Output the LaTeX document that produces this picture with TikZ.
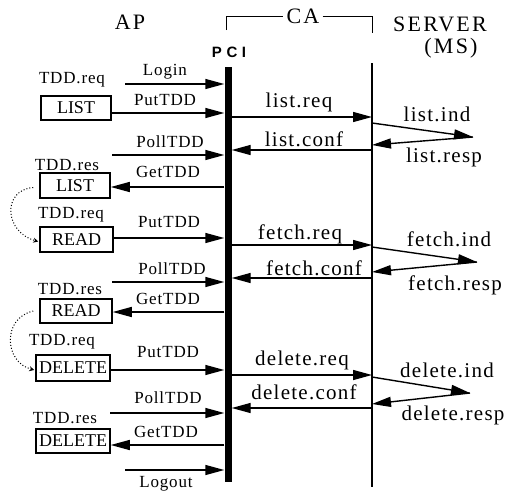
\documentclass[tikz,border=0pt]{standalone}
\usepackage{fontspec}
\setmainfont{Liberation Serif}
\newfontfamily\lblfont[LetterSpace=5]{Liberation Serif}
\newfontfamily\msgfont[LetterSpace=6]{Liberation Serif}
\newfontfamily\ttlfont[LetterSpace=10]{Liberation Serif}
\newfontfamily\pcifont[LetterSpace=30]{Liberation Sans}
\usetikzlibrary{arrows.meta}
\begin{document}
\begin{tikzpicture}[x=1pt,y=-1pt,
  arr/.style={line width=1.4pt,-{Triangle[length=19pt,width=10pt]}},
  box/.style={draw,line width=1.5pt,inner sep=0pt,font=\fontsize{18}{18}\selectfont},
  lbl/.style={inner sep=0pt,font=\lblfont\fontsize{17}{17}\selectfont},
  msg/.style={inner sep=0pt,font=\msgfont\fontsize{21}{21}\selectfont},
  ttl/.style={inner sep=0pt,font=\ttlfont\fontsize{22}{22}\selectfont},
  loop/.style={dotted,line width=1pt,-{Stealth[length=5pt,width=5pt]}}]
\useasboundingbox (0,0) rectangle (512,491);
% titles
\node[ttl] (ap) at (130,22) {AP};
\node[ttl,inner sep=3pt] (ca) at (303,16) {CA};
\node[ttl] (srvname) at (440,24) {SERVER};
\node[ttl] (ms) at (451,48) {(MS)};
\node[inner sep=0pt,font=\pcifont\bfseries\fontsize{15}{15}\selectfont] (pcil) at (229,52) {PCI};
\coordinate (cal) at (226,30);
\coordinate (car) at (372,33);
\draw[line width=1pt] (cal) |- (ca.west);
\draw[line width=1pt] (ca.east) -| (car);
% lifelines
\node[fill=black,draw=none,minimum width=7pt,minimum height=415pt,inner sep=0pt] (pci) at (228,274.5) {};
\coordinate (st) at (372,63);
\coordinate (sb) at (372,487);
\draw[line width=1.1pt] (st) -- (sb);
% boxes
\node[box,minimum width=70pt,minimum height=24pt] (L1) at (76,108) {LIST};
\node[box,minimum width=70pt,minimum height=25pt] (L2) at (75,185.5) {LIST};
\node[box,minimum width=73pt,minimum height=25pt] (R1) at (76.5,239.5) {READ};
\node[box,minimum width=72pt,minimum height=24pt] (R2) at (76,311) {READ};
\node[box,minimum width=74pt,minimum height=26pt] (D1) at (73,368) {DELETE};
\node[box,minimum width=74pt,minimum height=24pt] (D2) at (73,441) {DELETE};
% left labels
\node[lbl] (tq1) at (72,80) {TDD.req};
\node[lbl] (tr1) at (67,165) {TDD.res};
\node[lbl] (tq2) at (71,215) {TDD.req};
\node[lbl] (tr2) at (70,289) {TDD.res};
\node[lbl] (tq3) at (62,342) {TDD.req};
\node[lbl] (tr3) at (65,418) {TDD.res};
\node[lbl] (lgin) at (165,72) {Login};
\node[lbl] (pt1) at (165,100) {PutTDD};
\node[lbl] (pl1) at (170,142) {PollTDD};
\node[lbl] (gt1) at (168,172) {GetTDD};
\node[lbl] (pt2) at (169,222) {PutTDD};
\node[lbl] (pl2) at (172,269) {PollTDD};
\node[lbl] (gt2) at (168,299) {GetTDD};
\node[lbl] (pt3) at (168,352) {PutTDD};
\node[lbl] (pl3) at (168,398) {PollTDD};
\node[lbl] (gt3) at (166,432) {GetTDD};
\node[lbl] (lgout) at (166,484) {Logout};
% left arrows
\coordinate (a1) at (125,84);  \draw[arr] (a1) -- (a1 -| pci.west);
\coordinate (a2) at ([yshift=-5pt]L1.east); \draw[arr] (a2) -- (a2 -| pci.west);
\coordinate (a3) at (112,155); \draw[arr] (a3) -- (a3 -| pci.west);
\coordinate (a4) at ([yshift=-1.5pt]L2.east); \draw[arr] (a4 -| pci.west) -- (a4);
\coordinate (a5) at ([yshift=1.5pt]R1.east); \draw[arr] (a5) -- (a5 -| pci.west);
\coordinate (a6) at (112,282); \draw[arr] (a6) -- (a6 -| pci.west);
\coordinate (a7) at ([yshift=-1pt]R2.east); \draw[arr] (a7 -| pci.west) -- (a7);
\coordinate (a8) at ([yshift=-2pt]D1.east); \draw[arr] (a8) -- (a8 -| pci.west);
\coordinate (a9) at (110,413); \draw[arr] (a9) -- (a9 -| pci.west);
\coordinate (a10) at ([yshift=-4pt]D2.east); \draw[arr] (a10 -| pci.west) -- (a10);
\coordinate (a11) at (125,470); \draw[arr] (a11) -- (a11 -| pci.west);
% loops
\draw[loop] ([xshift=-6pt,yshift=-2pt]L2.west) .. controls (2,190) and (4,232) .. ([xshift=-1pt,yshift=-2pt]R1.west);
\draw[loop] ([xshift=-6pt]R2.west) .. controls (2,318) and (4,362) .. ([xshift=-1pt,yshift=-2pt]D1.west);
% right messages
\node[msg] (lreq) at (299,102) {list.req};
\node[msg] (lconf) at (304,139) {list.conf};
\node[msg] (lind) at (437,114) {list.ind};
\node[msg] (lresp) at (444,157) {list.resp};
\node[msg] (freq) at (300,234) {fetch.req};
\node[msg] (fconf) at (314,268) {fetch.conf};
\node[msg] (find) at (449,239) {fetch.ind};
\node[msg] (fresp) at (455,285) {fetch.resp};
\node[msg] (dreq) at (302,360) {delete.req};
\node[msg] (dconf) at (304,392) {delete.conf};
\node[msg] (dind) at (447,370) {delete.ind};
\node[msg] (dresp) at (453,415) {delete.resp};
% list
\coordinate (b1) at (231.5,117); \draw[arr] (b1) -- (b1 -| st);
\coordinate (b2) at (372,150); \draw[arr] (b2) -- (b2 -| pci.east);
\coordinate (i1) at (372,123); \coordinate (t1) at (473,137); \coordinate (r1) at (372,145);
\draw[arr] (i1) -- (t1); \draw[arr] (t1) -- (r1);
% fetch
\coordinate (b3) at (231.5,245); \draw[arr] (b3) -- (b3 -| st);
\coordinate (b4) at (372,278); \draw[arr] (b4) -- (b4 -| pci.east);
\coordinate (i2) at (372,247); \coordinate (t2) at (477,262); \coordinate (r2) at (372,272);
\draw[arr] (i2) -- (t2); \draw[arr] (t2) -- (r2);
% delete
\coordinate (b5) at (231.5,375); \draw[arr] (b5) -- (b5 -| st);
\coordinate (b6) at (372,408); \draw[arr] (b6) -- (b6 -| pci.east);
\coordinate (i3) at (372,377); \coordinate (t3) at (470,393); \coordinate (r3) at (372,404);
\draw[arr] (i3) -- (t3); \draw[arr] (t3) -- (r3);
\end{tikzpicture}
\end{document}
